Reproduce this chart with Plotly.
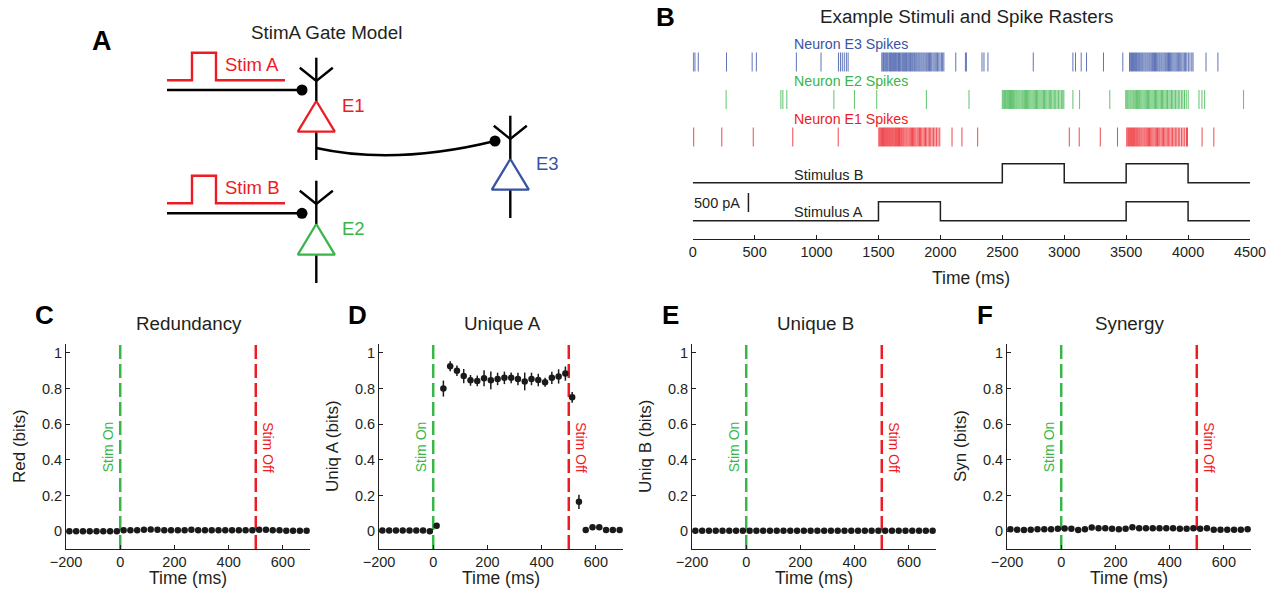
import plotly.graph_objects as go

W, H = 1272, 597
FONT = "Liberation Sans, Arial, Helvetica, sans-serif"
TXT = "#231f20"
RED = "#ed1c24"
GREEN = "#39b54a"
BLUE = "#3953a4"
DOT = "#1a1a1a"


def fx(p):
    return p / W


def fy(p):
    return 1 - p / H


# ---------------- data: information decomposition panels ----------------
bin_centers_ms = [-187.5, -162.5, -137.5, -112.5, -87.5, -62.5, -37.5, -12.5,
                  12.5, 37.5, 62.5, 87.5, 112.5, 137.5, 162.5, 187.5, 212.5, 237.5,
                  262.5, 287.5, 312.5, 337.5, 362.5, 387.5, 412.5, 437.5, 462.5, 487.5,
                  512.5, 537.5, 562.5, 587.5, 612.5, 637.5, 662.5, 687.5]

red_bits = [0.0, 0.0, 0.0, 0.0, 0.0, 0.0, 0.0, 0.0,
            0.005, 0.005, 0.005, 0.008, 0.01, 0.008, 0.005, 0.005, 0.005, 0.005,
            0.008, 0.005, 0.005, 0.005, 0.005, 0.005, 0.005, 0.005, 0.005, 0.005,
            0.008, 0.008, 0.005, 0.005, 0.003, 0.003, 0.003, 0.003]

uniqA_bits = [0.004, 0.004, 0.004, 0.004, 0.004, 0.004, 0.004, 0.0,
              0.03, 0.80, 0.925, 0.90, 0.87, 0.846, 0.843, 0.858, 0.846, 0.854,
              0.86, 0.86, 0.854, 0.84, 0.854, 0.848, 0.835, 0.86, 0.868, 0.884,
              0.751, 0.165, 0.007, 0.022, 0.022, 0.007, 0.007, 0.007]
uniqA_err = [0.005, 0.005, 0.005, 0.005, 0.005, 0.005, 0.005, 0.005,
             0.015, 0.045, 0.028, 0.03, 0.04, 0.03, 0.03, 0.045, 0.05, 0.035,
             0.035, 0.03, 0.035, 0.05, 0.035, 0.035, 0.025, 0.035, 0.04, 0.04,
             0.03, 0.04, 0.008, 0.008, 0.008, 0.008, 0.008, 0.008]

uniqB_bits = [0.003, 0.003, 0.003, 0.003, 0.003, 0.003, 0.003, 0.002,
              0.002, 0.002, 0.002, 0.002, 0.002, 0.002, 0.002, 0.002, 0.002, 0.002,
              0.002, 0.002, 0.002, 0.002, 0.002, 0.002, 0.002, 0.002, 0.002, 0.002,
              0.002, 0.002, 0.002, 0.002, 0.002, 0.002, 0.002, 0.002]

syn_bits = [0.011, 0.008, 0.006, 0.008, 0.011, 0.011, 0.011, 0.013,
            0.015, 0.013, 0.006, 0.011, 0.02, 0.017, 0.017, 0.013, 0.011, 0.013,
            0.022, 0.017, 0.017, 0.017, 0.017, 0.017, 0.017, 0.013, 0.013, 0.017,
            0.013, 0.017, 0.008, 0.008, 0.008, 0.008, 0.008, 0.011]

x_ticks = [-200, 0, 200, 400, 600]
y_ticks = [0, 0.2, 0.4, 0.6, 0.8, 1.0]
y_ticklabels = ["0", "0.2", "0.4", "0.6", "0.8", "1"]
stim_on_ms = 0
stim_off_ms = 500

# ---------------- data: panel B stimuli and spikes ----------------
stim_times_ms = [0, 1500, 2000, 2500, 3000, 3500, 4000, 4500]
stimA_pA = [0, 500, 0, 0, 0, 500, 0, 0]
stimB_pA = [0, 0, 0, 500, 0, 500, 0, 0]
stimB_offset_pA = 1000
scalebar_ms = 450
scalebar_pA = [230, 730]

e3_spikes = [5, 18, 45, 273, 480, 514, 837, 1036, 1177, 1193, 1208, 1224, 1241, 1255,
             1527, 1535, 1541, 1550, 1558, 1566, 1572, 1583, 1590, 1597, 1606, 1614, 1621,
             1630, 1638, 1645, 1655, 1662, 1670, 1677, 1688, 1695, 1703, 1711, 1719, 1726,
             1736, 1744, 1752, 1759, 1768, 1776, 1785, 1792, 1801, 1809, 1818, 1826, 1834,
             1843, 1851, 1860, 1868, 1877, 1886, 1894, 1903, 1912, 1921, 1930, 1940, 1949,
             1958, 1967, 1977, 1987, 1997, 2008, 2018, 2028,
             2124, 2202, 2210, 2336, 2352, 2384, 2750, 3070, 3091, 3137, 3180, 3317, 3473,
             3527, 3534, 3543, 3551, 3559, 3568, 3575, 3584, 3593, 3601, 3609, 3618, 3626,
             3634, 3643, 3652, 3660, 3669, 3677, 3686, 3694, 3703, 3712, 3720, 3729, 3737,
             3746, 3755, 3764, 3772, 3781, 3789, 3798, 3807, 3816, 3824, 3833, 3842, 3850,
             3859, 3868, 3877, 3886, 3895, 3904, 3913, 3922, 3932, 3941, 3950, 3960, 3970,
             3980, 3990, 4002, 4015, 4030, 4040,
             4145, 4241]

e2_spikes = [270, 712, 728, 760, 1140, 1306, 1486, 1887, 2231,
             2500, 2508, 2517, 2525, 2532, 2541, 2549, 2558, 2566, 2574, 2583, 2591, 2600,
             2609, 2617, 2626, 2634, 2643, 2652, 2661, 2669, 2678, 2687, 2695, 2704, 2713,
             2722, 2731, 2740, 2749, 2758, 2767, 2776, 2785, 2795, 2804, 2813, 2822, 2832,
             2841, 2851, 2860, 2870, 2880, 2890, 2899, 2910, 2920, 2931, 2942, 2953, 2965,
             2977, 2988, 2997,
             3070, 3124, 3368,
             3497, 3505, 3513, 3522, 3531, 3539, 3548, 3557, 3565, 3574, 3583, 3592, 3601,
             3609, 3618, 3627, 3636, 3645, 3654, 3663, 3672, 3681, 3690, 3700, 3709, 3718,
             3728, 3737, 3746, 3756, 3765, 3775, 3785, 3794, 3804, 3814, 3824, 3834, 3845,
             3855, 3866, 3876, 3887, 3898, 3910, 3921, 3933, 3946, 3958, 3971, 3985, 4001,
             4088, 4112, 4134, 4448]

e1_spikes = [8, 235, 489, 808, 1175,
             1503, 1510, 1518, 1525, 1533, 1541, 1548, 1556, 1564, 1572, 1580, 1588, 1596,
             1604, 1612, 1620, 1628, 1637, 1645, 1653, 1662, 1670, 1679, 1687, 1696, 1704,
             1713, 1722, 1730, 1739, 1748, 1757, 1766, 1775, 1784, 1793, 1802, 1812, 1821,
             1831, 1840, 1850, 1860, 1870, 1880, 1890, 1901, 1911, 1922, 1933, 1944, 1956,
             1968, 1981, 1995,
             2094, 2174, 2301, 3041, 3121, 3291, 3430,
             3505, 3513, 3520, 3528, 3536, 3544, 3552, 3560, 3568, 3577, 3585, 3593, 3602,
             3610, 3619, 3627, 3636, 3645, 3653, 3662, 3671, 3680, 3689, 3698, 3707, 3716,
             3725, 3735, 3744, 3753, 3763, 3772, 3782, 3792, 3802, 3812, 3822, 3832, 3843,
             3853, 3864, 3875, 3886, 3897, 3909, 3921, 3933, 3946, 3959, 3973, 3987, 3995,
             4113, 4208]

b_ticks = [0, 500, 1000, 1500, 2000, 2500, 3000, 3500, 4000, 4500]

# ---------------- diagram geometry (panel A, drawn in pixel units) ----------------
neuron_names = ["E1", "E2", "E3"]
neuron_x = [316.3, 316.3, 510.3]
neuron_apex_y = [101, 224, 159]
neuron_colors = [RED, GREEN, BLUE]
stim_names = ["Stim A", "Stim B"]
stim_base_y = [80.3, 203.3]
input_line_y = [90, 213.3]

fig = go.Figure()

# ---------------- bottom panels ----------------
panels = [
    ("C", "Redundancy", "Red (bits)", red_bits, None, 66),
    ("D", "Unique A", "Uniq A (bits)", uniqA_bits, uniqA_err, 379),
    ("E", "Unique B", "Uniq B (bits)", uniqB_bits, None, 692),
    ("F", "Synergy", "Syn (bits)", syn_bits, None, 1007),
]
PW = 244
annotations = []
shapes = []
for i, (letter, title, ytitle, vals, errs, left) in enumerate(panels):
    n = i + 1
    xa = "x" if n == 1 else f"x{n}"
    ya = "y" if n == 1 else f"y{n}"
    tr = dict(x=bin_centers_ms, y=vals, mode="markers", xaxis=xa, yaxis=ya,
              marker=dict(size=6.5, color=DOT), showlegend=False, hoverinfo="skip")
    if errs is not None:
        tr["error_y"] = dict(type="data", array=errs, thickness=1.5, width=0, color=DOT)
    fig.add_trace(go.Scatter(**tr))
    axcommon = dict(showline=True, linecolor=TXT, linewidth=1, ticks="inside", ticklen=4,
                    tickcolor=TXT, showgrid=False, zeroline=False, automargin=False,
                    tickfont=dict(family=FONT, size=14.5, color=TXT))
    fig.update_layout(**{
        ("xaxis" if n == 1 else f"xaxis{n}"): dict(
            domain=[fx(left), fx(left + PW)], range=[-200, 700], tickvals=x_ticks,
            anchor=ya, **axcommon),
        ("yaxis" if n == 1 else f"yaxis{n}"): dict(
            domain=[fy(549), fy(344)], range=[-0.1, 1.05], tickvals=y_ticks,
            ticktext=y_ticklabels, anchor=xa, **axcommon),
    })
    for xv, col in ((stim_on_ms, GREEN), (stim_off_ms, RED)):
        shapes.append(dict(type="line", xref=xa, yref=f"{ya} domain", x0=xv, x1=xv, y0=0, y1=1,
                           line=dict(color=col, width=2.5, dash="14px,5px"), layer="below"))
    annotations += [
        dict(text="Stim On", xref=xa, x=stim_on_ms, xshift=-12, yref="paper", y=fy(447),
             textangle=-90, font=dict(family=FONT, size=14, color=GREEN)),
        dict(text="Stim Off", xref=xa, x=stim_off_ms, xshift=12, yref="paper", y=fy(447),
             textangle=90, font=dict(family=FONT, size=14, color=RED)),
        dict(text=letter, xref="paper", yref="paper", x=fx(left - 22), y=fy(315),
             font=dict(family=FONT, size=26, color="black"), ),
        dict(text=title, xref="paper", yref="paper", x=fx(left + PW / 2 + 1), y=fy(323),
             font=dict(family=FONT, size=18.8, color=TXT)),
        dict(text=ytitle, xref="paper", yref="paper", x=fx(left - 47), y=fy(446),
             textangle=-90, font=dict(family=FONT, size=17, color=TXT)),
        dict(text="Time (ms)", xref="paper", yref="paper", x=fx(left + PW / 2), y=fy(578),
             font=dict(family=FONT, size=17.5, color=TXT)),
    ]

# ---------------- panel B ----------------
fig.add_trace(go.Scatter(x=stim_times_ms, y=stimA_pA, mode="lines", line_shape="hv",
                         line=dict(color=TXT, width=1.5), xaxis="x5", yaxis="y5",
                         showlegend=False, hoverinfo="skip"))
fig.add_trace(go.Scatter(x=stim_times_ms, y=[v + stimB_offset_pA for v in stimB_pA],
                         mode="lines", line_shape="hv", line=dict(color=TXT, width=1.5),
                         xaxis="x5", yaxis="y5", showlegend=False, hoverinfo="skip"))
fig.add_trace(go.Scatter(x=[scalebar_ms, scalebar_ms], y=scalebar_pA, mode="lines",
                         line=dict(color=TXT, width=1.5), xaxis="x5", yaxis="y5",
                         showlegend=False, hoverinfo="skip"))

for row, (spk, col) in enumerate([(e1_spikes, RED), (e2_spikes, GREEN), (e3_spikes, BLUE)], start=1):
    xs, ys = [], []
    for t in spk:
        xs += [t, t, None]
        ys += [row - 0.253, row + 0.253, None]
    fig.add_trace(go.Scatter(x=xs, y=ys, mode="lines", line=dict(color=col, width=1),
                             opacity=0.8, xaxis="x5", yaxis="y6", showlegend=False,
                             hoverinfo="skip"))

fig.update_layout(
    xaxis5=dict(domain=[fx(692.7), fx(1250)], range=[0, 4500], tickvals=b_ticks, anchor="y5",
                showline=True, linecolor=TXT, linewidth=1, ticks="inside", ticklen=4,
                tickcolor=TXT, showgrid=False, zeroline=False, automargin=False,
                tickfont=dict(family=FONT, size=14.5, color=TXT)),
    yaxis5=dict(domain=[fy(239), fy(45)], range=[-481, 4621], visible=False, anchor="x5",
                automargin=False),
    yaxis6=dict(domain=[fy(239), fy(45)], range=[-1.72, 3.453], visible=False,
                overlaying="y5", anchor="x5", automargin=False),
)
annotations += [
    dict(text="B", xref="paper", yref="paper", x=fx(665), y=fy(17),
         font=dict(family=FONT, size=26, color="black")),
    dict(text="Example Stimuli and Spike Rasters", xref="paper", yref="paper", x=fx(966),
         y=fy(17), font=dict(family=FONT, size=18.8, color=TXT)),
    dict(text="Neuron E3 Spikes", xref="paper", yref="paper", x=fx(792), y=fy(44),
         xanchor="left", font=dict(family=FONT, size=14.2, color=BLUE)),
    dict(text="Neuron E2 Spikes", xref="paper", yref="paper", x=fx(792), y=fy(81),
         xanchor="left", font=dict(family=FONT, size=14.2, color=GREEN)),
    dict(text="Neuron E1 Spikes", xref="paper", yref="paper", x=fx(792), y=fy(119),
         xanchor="left", font=dict(family=FONT, size=14.2, color=RED)),
    dict(text="Stimulus B", xref="paper", yref="paper", x=fx(792), y=fy(175),
         xanchor="left", font=dict(family=FONT, size=14.5, color=TXT)),
    dict(text="Stimulus A", xref="paper", yref="paper", x=fx(792), y=fy(212),
         xanchor="left", font=dict(family=FONT, size=14.5, color=TXT)),
    dict(text="500 pA", xref="paper", yref="paper", x=fx(742), y=fy(203),
         xanchor="right", font=dict(family=FONT, size=14.5, color=TXT)),
    dict(text="Time (ms)", xref="paper", yref="paper", x=fx(971), y=fy(278),
         font=dict(family=FONT, size=17.5, color=TXT)),
]

# ---------------- panel A diagram ----------------
def add_line(xs, ys, color, width=2.4):
    fig.add_trace(go.Scatter(x=xs, y=ys, mode="lines", line=dict(color=color, width=width),
                             xaxis="x7", yaxis="y7", showlegend=False, hoverinfo="skip"))


for name, by, iy in zip(stim_names, stim_base_y, input_line_y):
    add_line([167, 192, 192, 216, 216, 285], [by, by, by - 27.5, by - 27.5, by, by], RED)
    add_line([167, 302], [iy, iy], "black")
    annotations.append(dict(text=name, xref="x7", yref="y7", x=251.5, y=by - 16,
                            font=dict(family=FONT, size=18.5, color=RED)))

dot_x = [302, 302, 495]
dot_y = [input_line_y[0], input_line_y[1], 141]
fig.add_trace(go.Scatter(x=dot_x, y=dot_y, mode="markers",
                         marker=dict(size=11, color="black"), xaxis="x7", yaxis="y7",
                         showlegend=False, hoverinfo="skip"))

for name, nx, ay, col in zip(neuron_names, neuron_x, neuron_apex_y, neuron_colors):
    add_line([nx, nx], [ay - 43.3, ay], "black")
    add_line([nx - 16.5, nx, nx + 16.5], [ay - 33.3, ay - 20, ay - 33.3], "black")
    add_line([nx, nx], [ay + 30.7, ay + 59], "black")
    add_line([nx, nx - 18.5, nx + 18.5, nx], [ay, ay + 30.7, ay + 30.7, ay], col, 2.3)
    annotations.append(dict(text=name, xref="x7", yref="y7", x=nx + 37, y=ay + 4,
                            font=dict(family=FONT, size=18.5, color=col)))

shapes.append(dict(type="path", xref="x7", yref="y7",
                   path="M 316.3,148 Q 394.5,165.5 495,141",
                   line=dict(color="black", width=2.4)))

annotations += [
    dict(text="StimA Gate Model", xref="x7", yref="y7", x=326, y=32,
         font=dict(family=FONT, size=18.8, color=TXT)),
    dict(text="A", xref="x7", yref="y7", x=102, y=41,
         font=dict(family=FONT, size=27, color="black")),
]

fig.update_layout(
    xaxis7=dict(domain=[0, 1], range=[0, W], visible=False, anchor="y7", fixedrange=True,
                automargin=False),
    yaxis7=dict(domain=[0, 1], range=[H, 0], visible=False, anchor="x7", fixedrange=True,
                automargin=False),
)

for a in annotations:
    a.setdefault("showarrow", False)
    a.setdefault("xanchor", "center")
    a.setdefault("yanchor", "middle")
    if a["text"] in ("A", "B", "C", "D", "E", "F"):
        a["text"] = f"<b>{a['text']}</b>"

fig.update_layout(
    width=W, height=H, margin=dict(l=0, r=0, t=0, b=0, pad=0, autoexpand=False),
    paper_bgcolor="white", plot_bgcolor="rgba(0,0,0,0)",
    annotations=annotations, shapes=shapes, hovermode=False,
    font=dict(family=FONT, color=TXT),
)

fig.write_html("out.html", config={"displayModeBar": False, "staticPlot": True},
               post_script="document.body.style.margin='0';document.body.style.overflow='hidden';")
